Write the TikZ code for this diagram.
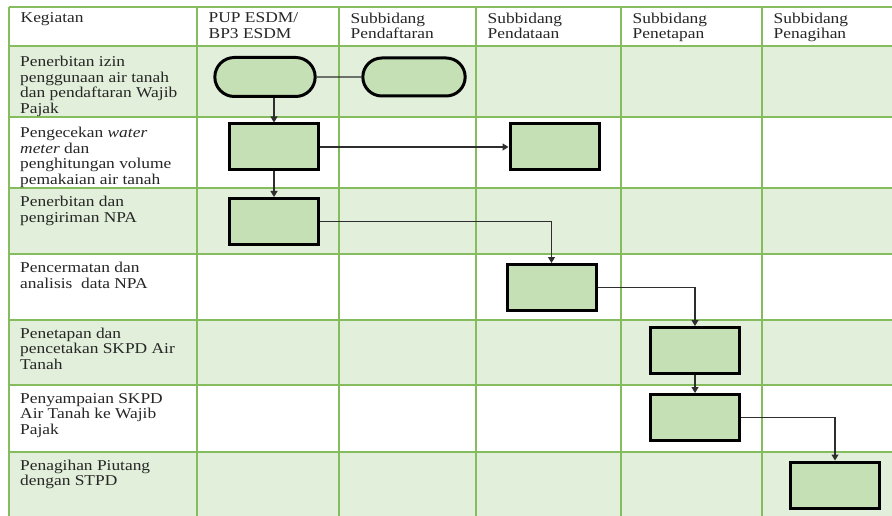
\documentclass[tikz,border=0pt]{standalone}
\usepackage{fontspec}
\setmainfont[FakeStretch=1.16]{Liberation Serif}
\usepackage{xcolor}
\definecolor{cGrid}{HTML}{84BC5E}
\definecolor{cBand}{HTML}{E2EFDA}
\definecolor{cBox}{HTML}{C5E0B4}
\definecolor{cLink}{HTML}{2E2E2E}
\usepackage{tikz}
\usetikzlibrary{arrows.meta,shapes.misc}
\tikzset{
  node-label/.style={anchor=north west,inner sep=0pt,align=left,
    font=\fontsize{15}{15.5}\selectfont,text=black!85},
  node-start/.style={rounded rectangle,draw=black,line width=3pt,fill=cBox,
    minimum width=107pt,minimum height=39pt},
  node-box/.style={draw=black,line width=3pt,fill=cBox,
    minimum width=89pt,minimum height=46pt},
  grid-line/.style={draw=cGrid,line width=1.5pt},
  arrow/.style={-{Triangle[length=6pt,width=7pt]},draw=cLink,line width=1.1pt},
  link/.style={draw=cLink,line width=1.1pt},
}

\begin{document}
\begin{tikzpicture}[x=1pt,y=-1pt]
  \useasboundingbox[fill=white] (0,0) rectangle (892,516);
  \clip (0,0) rectangle (892,516);
  % baris berwarna dan garis tabel
  \foreach \top/\bot in {46/117,188/254,320/385,452/530}
    \fill[cBand] (9,\top) rectangle (900,\bot);
  \foreach \y in {7,46,117,188,254,320,385,452}
    \draw[grid-line] (9,\y) -- (900,\y);
  \foreach \x in {9,197,339,476,621,762}
    \draw[grid-line] (\x,7) -- (\x,530);

  % kepala kolom
  \node[node-label] (hKeg) at (20.5,12.5) {Kegiatan};
  \node[node-label] (hPup) at (208.5,12.5) {PUP ESDM/\\BP3 ESDM};
  \node[node-label] (hDaf) at (350.5,12.5) {Subbidang\\Pendaftaran};
  \node[node-label] (hDat) at (487.5,12.5) {Subbidang\\Pendataan};
  \node[node-label] (hTet) at (632.5,12.5) {Subbidang\\Penetapan};
  \node[node-label] (hTag) at (773.5,12.5) {Subbidang\\Penagihan};

  % kegiatan
  \node[node-label] (k1) at (20,56) {Penerbitan izin\\penggunaan air tanah\\dan pendaftaran Wajib\\Pajak};
  \node[node-label] (k2) at (20,127) {Pengecekan \textit{water}\\\textit{meter} dan\\penghitungan volume\\pemakaian air tanah};
  \node[node-label] (k3) at (20,196) {Penerbitan dan\\pengiriman NPA};
  \node[node-label] (k4) at (20,262) {Pencermatan dan\\analisis~ data NPA};
  \node[node-label] (k5) at (20,327.5) {Penetapan dan\\pencetakan SKPD Air\\Tanah};
  \node[node-label] (k6) at (20,393) {Penyampaian SKPD\\Air Tanah ke Wajib\\Pajak};
  \node[node-label] (k7) at (20,459.5) {Penagihan Piutang\\dengan STPD};

  % alur
  \node[node-start] (term1) at (265,77) {};
  \node[node-start,minimum width=109pt,minimum height=38pt] (term2) at (414,77) {};
  \node[node-box] (box1) at (274,147) {};
  \node[node-box] (box2) at (554.5,147) {};
  \node[node-box] (box3) at (274,221.5) {};
  \node[node-box] (box4) at (551.5,287.5) {};
  \node[node-box] (box5) at (695,350.5) {};
  \node[node-box] (box6) at (695,417.5) {};
  \node[node-box] (box7) at (835,485) {};

  \draw[link] (term1) -- (term2);
  \draw[arrow] (term1.south -| box1.north) -- (box1.north);
  \draw[arrow] (box1) -- (box2);
  \draw[arrow] (box1) -- (box3);
  \draw[arrow] (box3.east) -| (box4.north);
  \draw[arrow] (box4.east) -| (box5.north);
  \draw[arrow] (box5) -- (box6);
  \draw[arrow] (box6.east) -| (box7.north);
\end{tikzpicture}
\end{document}
